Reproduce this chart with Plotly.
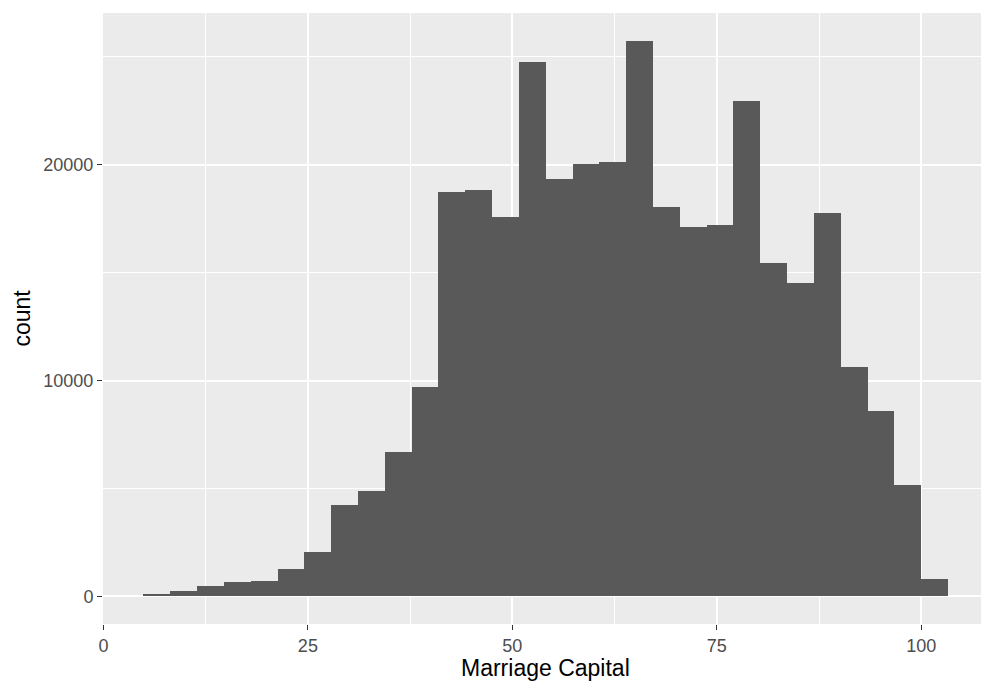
import plotly.graph_objects as go

# Histogram data (30 bins)
bin_start = 4.9
bin_width = 3.279
counts = [110, 255, 455, 680, 690, 1275, 2063, 4241, 4890, 6666,
          9680, 18750, 18840, 17590, 24770, 19350, 20050, 20140, 25750, 18050,
          17130, 17220, 22970, 15460, 14530, 17780, 10620, 8600, 5170, 810]
x_ticks = [0, 25, 50, 75, 100]
x_tick_labels = ["0", "25", "50", "75", "100"]
y_ticks = [0, 10000, 20000]
y_tick_labels = ["0", "10000", "20000"]
x_title = "Marriage Capital"
y_title = "count"

centers = [bin_start + bin_width * (i + 0.5) for i in range(len(counts))]

FONT = "Liberation Sans, Arial, Helvetica, sans-serif"

fig = go.Figure()
fig.add_trace(go.Bar(
    x=centers, y=counts, width=[bin_width] * len(counts),
    marker=dict(color="#595959", line=dict(width=0)),
    hoverinfo="x+y",
))

ymax = max(counts)
fig.update_layout(
    width=981, height=686,
    margin=dict(l=102.7, r=0, t=13, b=61.6, pad=0),
    paper_bgcolor="white",
    plot_bgcolor="#EBEBEB",
    bargap=0,
    showlegend=False,
    font=dict(family=FONT),
    xaxis=dict(
        range=[-0.05, 107.3],
        tickvals=x_ticks, ticktext=x_tick_labels,
        showgrid=True, gridcolor="white", gridwidth=2.2,
        zeroline=False, showline=False,
        ticks="outside", ticklen=5, tickwidth=1.3, tickcolor="#333333",
        tickfont=dict(size=18, color="#4D4D4D", family=FONT),
        minor=dict(tickvals=[12.5, 37.5, 62.5, 87.5], showgrid=True,
                   gridcolor="white", gridwidth=1.2, ticks=""),
    ),
    yaxis=dict(
        range=[-0.05 * ymax, 1.05 * ymax],
        tickvals=y_ticks, ticktext=y_tick_labels,
        showgrid=True, gridcolor="white", gridwidth=2.2,
        zeroline=False, showline=False,
        ticks="outside", ticklen=5, tickwidth=1.3, tickcolor="#333333",
        tickfont=dict(size=18, color="#4D4D4D", family=FONT),
        minor=dict(tickvals=[5000, 15000, 25000], showgrid=True,
                   gridcolor="white", gridwidth=1.2, ticks=""),
    ),
    annotations=[
        dict(text=x_title, xref="paper", yref="paper", x=0.5037, y=0,
             yshift=-44, xanchor="center", yanchor="middle", showarrow=False,
             font=dict(size=23, color="black", family=FONT)),
        dict(text=y_title, xref="paper", yref="paper", x=0, y=0.5,
             xshift=-82, xanchor="center", yanchor="middle", showarrow=False,
             textangle=-90, font=dict(size=23, color="black", family=FONT)),
    ],
)

fig.write_html(
    "out.html",
    config={"displayModeBar": False},
    post_script="document.body.style.margin='0';document.body.style.overflow='hidden';",
)
